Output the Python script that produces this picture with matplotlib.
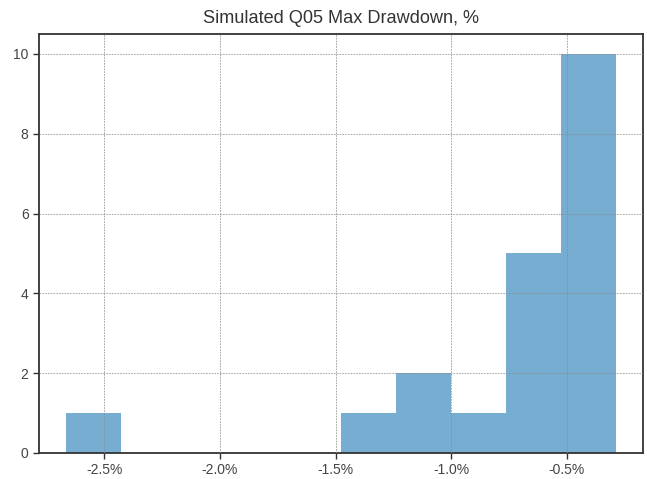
import matplotlib
matplotlib.use("Agg")
import matplotlib.pyplot as plt
from matplotlib.ticker import FuncFormatter

# Histogram data (max drawdown, %)
bin_edges = [-2.6645, -2.4268, -2.1892, -1.9515, -1.7139, -1.4762,
             -1.2386, -1.0009, -0.7633, -0.5256, -0.2880]
counts = [1, 0, 0, 0, 0, 1, 2, 1, 5, 10]
title = "Simulated Q05 Max Drawdown, %"

plt.rcParams['font.family'] = ['Liberation Sans', 'DejaVu Sans']

fig = plt.figure(figsize=(6.47, 4.79), dpi=100)
ax = fig.add_axes([0.0603, 0.0543, 0.9335, 0.8747])

ax.hist(bin_edges[:-1], bins=bin_edges, weights=counts, color='#1f77b4', alpha=0.6)

ax.grid(True, color='#8a8a8a', linestyle=(0, (2.5, 1.5)), linewidth=0.5)
ax.set_axisbelow(False)
ax.xaxis.set_major_formatter(FuncFormatter(lambda v, p: f"{v:.1f}%"))
ax.set_xticks([-2.5, -2.0, -1.5, -1.0, -0.5])
ax.set_yticks([0, 2, 4, 6, 8, 10])
ax.set_title(title, fontsize=13.1, color='#333333', pad=8)
for s in ax.spines.values():
    s.set_color('#333333')
    s.set_linewidth(1.3)
ax.tick_params(colors='#333333', labelsize=10, length=4, width=1)
ax.tick_params(axis='both', labelcolor='#444444')

fig.savefig("out.png", dpi=100)
